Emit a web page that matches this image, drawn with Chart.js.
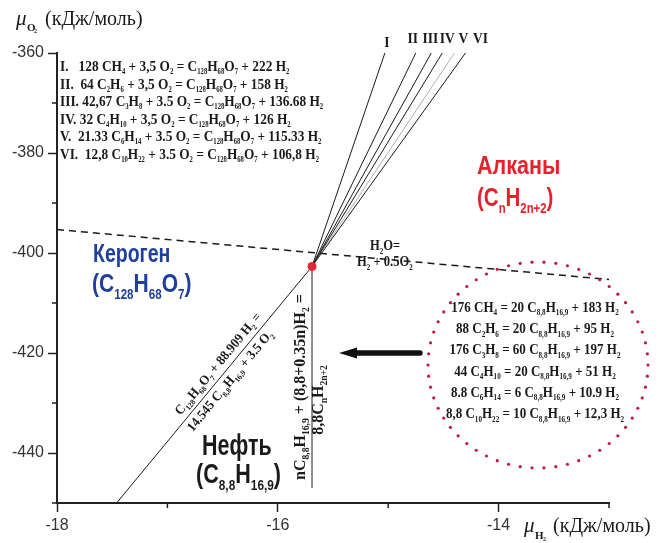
<!DOCTYPE html>
<html>
<head>
<meta charset="utf-8">
<script src="https://cdn.jsdelivr.net/npm/chart.js@4.4.0/dist/chart.umd.min.js"></script>
<style>
    html, body { margin: 0; padding: 0; background: #fff; }
</style>
</head>
<body>
<canvas id="chart" width="662" height="543"></canvas>
<script>
    // axis ranges
    var xMin = -18, xMax = -13;
    var yMin = -450, yMax = -360;

    // point where kerogen, oil and alkane lines meet
    var junctionX = -15.69;
    var junctionY = -402.7;

    // alkane lines I..VI, from the junction up to the top of the plot
    var alkaneNames = ['I', 'II', 'III', 'IV', 'V', 'VI'];
    var alkaneTopX = [-15.03, -14.75, -14.61, -14.51, -14.40, -14.30];
    var alkaneTopY = -360;

    // H2O = H2 + 0.5 O2 (dashed)
    var waterX = [-18, -13];
    var waterY = [-395.3, -405.3];

    // kerogen -> oil
    var kerogenX = [-17.46, junctionX];
    var kerogenY = [-450, junctionY];

    // oil -> alkanes (vertical)
    var oilX = [junctionX, junctionX];
    var oilY = [junctionY, -447];

    var kerogenEqs = [
        'I.   128 CH_4 + 3,5 O_2 = C_{128}H_{68}O_7 + 222 H_2',
        'II.  64 C_2H_6 + 3,5 O_2 = C_{128}H_{68}O_7 + 158 H_2',
        'III. 42,67 C_3H_8 + 3.5 O_2 = C_{128}H_{68}O_7 + 136.68 H_2',
        'IV. 32 C_4H_{10} + 3,5 O_2 = C_{128}H_{68}O_7 + 126 H_2',
        'V.  21.33 C_6H_{14} + 3.5 O_2 = C_{128}H_{68}O_7 + 115.33 H_2',
        'VI.  12,8 C_{10}H_{22} + 3.5 O_2 = C_{128}H_{68}O_7 + 106,8 H_2'
    ];
    var oilEqs = [
        '176 CH_4 = 20 C_{8,8}H_{16,9} + 183 H_2',
        '88 C_2H_6 = 20 C_{8,8}H_{16,9} + 95 H_2',
        '176 C_3H_8 = 60 C_{8,8}H_{16,9} + 197 H_2',
        '44 C_4H_{10} = 20 C_{8,8}H_{16,9} + 51 H_2',
        '8.8 C_6H_{14} = 6 C_{8,8}H_{16,9} + 10.9 H_2',
        '8,8 C_{10}H_{22} = 10 C_{8,8}H_{16,9} + 12,3 H_2'
    ];

    var serif = '"Liberation Serif", "Times New Roman", serif';
    var sans = '"Liberation Sans", Arial, sans-serif';

    function pts(xs, ys) {
        return xs.map(function (x, i) { return {x: x, y: ys[i]}; });
    }

    // "C_{128}H_2" -> segments with subscripts
    function parseRich(str) {
        var segs = [], buf = '', i = 0;
        while (i < str.length) {
            if (str[i] === '_') {
                if (buf) { segs.push({t: buf, sub: false}); buf = ''; }
                var s;
                if (str[i + 1] === '{') {
                    var j = str.indexOf('}', i);
                    s = str.slice(i + 2, j);
                    i = j + 1;
                } else {
                    s = str[i + 1];
                    i += 2;
                }
                segs.push({t: s, sub: true});
            } else {
                buf += str[i];
                i++;
            }
        }
        if (buf) segs.push({t: buf, sub: false});
        return segs;
    }

    function drawRich(ctx, str, x, y, o) {
        var segs = parseRich(str);
        var w8 = o.weight || 'bold';
        var main = w8 + ' ' + o.size + 'px ' + o.family;
        var subF = w8 + ' ' + (o.size * (o.sub || 0.55)).toFixed(1) + 'px ' + o.family;
        ctx.save();
        ctx.translate(x, y);
        if (o.rotate) ctx.rotate(o.rotate);
        ctx.scale(o.scaleX || 1, 1);
        var w = 0;
        segs.forEach(function (s) {
            ctx.font = s.sub ? subF : main;
            s.w = ctx.measureText(s.t).width;
            w += s.w;
        });
        var cx = o.align === 'center' ? -w / 2 : 0;
        ctx.fillStyle = o.color || '#1a1a1a';
        ctx.textBaseline = 'alphabetic';
        ctx.textAlign = 'left';
        segs.forEach(function (s) {
            ctx.font = s.sub ? subF : main;
            ctx.fillText(s.t, cx, s.sub ? o.size * (o.drop || 0.25) : 0);
            cx += s.w;
        });
        ctx.restore();
    }

    var extras = {
        id: 'extras',
        afterDraw: function (chart) {
            var ctx = chart.ctx;
            var xs = chart.scales.x, ys = chart.scales.y;
            var area = chart.chartArea;
            var X = function (v) { return xs.getPixelForValue(v); };
            var Y = function (v) { return ys.getPixelForValue(v); };

            // minor ticks
            ctx.save();
            ctx.strokeStyle = '#222';
            ctx.lineWidth = 1.5;
            ctx.beginPath();
            for (var v = xMin + 1; v <= xMax; v += 2) {
                ctx.moveTo(X(v), area.bottom);
                ctx.lineTo(X(v), area.bottom + 5);
            }
            for (var u = yMin; u < yMax; u += 20) {
                ctx.moveTo(area.left, Y(u));
                ctx.lineTo(area.left - 5, Y(u));
            }
            ctx.stroke();
            ctx.restore();

            // axis titles
            ctx.save();
            ctx.fillStyle = '#1a1a1a';
            ctx.textBaseline = 'alphabetic';
            ctx.font = 'italic 21px ' + serif;
            ctx.fillText('\u03bc', 16, 25);
            ctx.font = 'bold 11px ' + serif;
            ctx.fillText('O', 27, 31);
            ctx.font = 'bold 6px ' + serif;
            ctx.fillText('2', 34, 33);
            ctx.font = '20px ' + serif;
            ctx.fillText('(\u043a\u0414\u0436/\u043c\u043e\u043b\u044c)', 45, 25);

            ctx.font = 'italic 21px ' + serif;
            ctx.fillText('\u03bc', 524, 532);
            ctx.font = 'bold 11px ' + serif;
            ctx.fillText('H', 535, 539);
            ctx.font = 'bold 6px ' + serif;
            ctx.fillText('2', 543, 541);
            ctx.font = '20px ' + serif;
            ctx.fillText('(\u043a\u0414\u0436/\u043c\u043e\u043b\u044c)', 553, 532);
            ctx.restore();

            // equations, top left
            kerogenEqs.forEach(function (s, i) {
                drawRich(ctx, s, 60, 71 + i * 17.5, {size: 15, family: serif, scaleX: 0.89, sub: 0.5, drop: 0.22});
            });

            // roman numerals over alkane lines
            var nameShift = [2, -3, -1, 5, 9, 15];
            alkaneNames.forEach(function (n, i) {
                drawRich(ctx, n, X(alkaneTopX[i]) + nameShift[i], i === 0 ? 47 : 43,
                    {size: 15, family: serif, scaleX: 0.9, align: 'center'});
            });

            // dotted circle with oil equations
            ctx.save();
            ctx.fillStyle = '#c4163f';
            var nDots = 58;
            for (var k = 0; k < nDots; k++) {
                var a = k / nDots * Math.PI * 2;
                ctx.beginPath();
                ctx.arc(538 + 110 * Math.cos(a), 365 + 103 * Math.sin(a), 1.6, 0, Math.PI * 2);
                ctx.fill();
            }
            ctx.restore();
            oilEqs.forEach(function (s, i) {
                drawRich(ctx, s, 535, 311.7 + i * 21.3, {size: 14, family: serif, scaleX: 0.93, align: 'center'});
            });

            // arrow
            ctx.save();
            ctx.fillStyle = '#111';
            ctx.beginPath();
            ctx.moveTo(339, 353);
            ctx.lineTo(357, 347.5);
            ctx.lineTo(357, 350.3);
            ctx.lineTo(420, 350.3);
            ctx.arc(420, 353, 2.7, -Math.PI / 2, Math.PI / 2);
            ctx.lineTo(357, 355.7);
            ctx.lineTo(357, 358.5);
            ctx.closePath();
            ctx.fill();
            ctx.restore();

            // water line label
            drawRich(ctx, 'H_2O=', 370, 250, {size: 14, family: serif, scaleX: 0.9});
            drawRich(ctx, 'H_2 + 0.5O_2', 357, 266, {size: 14, family: serif, scaleX: 0.9});

            // text along the kerogen line
            var ax = X(kerogenX[0]), ay = Y(kerogenY[0]);
            var bx = X(kerogenX[1]), by = Y(kerogenY[1]);
            var ang = Math.atan2(by - ay, bx - ax);
            var nx = Math.sin(ang), ny = -Math.cos(ang);
            var along = function (t, d) {
                return [ax + (bx - ax) * t - nx * d, ay + (by - ay) * t - ny * d];
            };
            var p1 = along(0.56, -6.4);
            drawRich(ctx, 'C_{128}H_{68}O_7 + 88.909 H_2 =', p1[0], p1[1],
                {size: 13.5, family: serif, scaleX: 0.95, sub: 0.58, rotate: ang, align: 'center'});
            var p2 = along(0.542, 13.6);
            drawRich(ctx, '14.545 C_{8,8}H_{16,9} + 3.5 O_2', p2[0], p2[1],
                {size: 13.5, family: serif, scaleX: 0.95, sub: 0.58, rotate: ang, align: 'center'});

            // text along the vertical oil line
            var vx = X(junctionX);
            drawRich(ctx, 'nC_{8,8}H_{16,9} + (8,8+0.35n)H_2 =', vx - 7, 387,
                {size: 16, family: serif, sub: 0.6, rotate: -Math.PI / 2, align: 'center'});
            drawRich(ctx, '8,8C_nH_{2n+2}', vx + 11, 400,
                {size: 16, family: serif, sub: 0.6, rotate: -Math.PI / 2, align: 'center'});

            // region names
            drawRich(ctx, '\u041a\u0435\u0440\u043e\u0433\u0435\u043d', 93, 262,
                {size: 26, family: sans, scaleX: 0.75, color: '#1e3f9e'});
            drawRich(ctx, '(C_{128}H_{68}O_7)', 92, 292,
                {size: 26, family: sans, scaleX: 0.81, sub: 0.55, drop: 0.25, color: '#1e3f9e'});
            drawRich(ctx, '\u0410\u043b\u043a\u0430\u043d\u044b', 477, 174,
                {size: 25, family: sans, scaleX: 0.86, color: '#e5222b'});
            drawRich(ctx, '(C_nH_{2n+2})', 477, 206,
                {size: 25, family: sans, scaleX: 0.82, sub: 0.55, drop: 0.28, color: '#e5222b'});
            drawRich(ctx, '\u041d\u0435\u0444\u0442\u044c', 202, 455,
                {size: 29, family: sans, scaleX: 0.74, color: '#1a1a1a'});
            drawRich(ctx, '(C_{8,8}H_{16,9})', 196, 483,
                {size: 28, family: sans, scaleX: 0.77, sub: 0.55, drop: 0.25, color: '#1a1a1a'});
        }
    };

    var lineDs = function (data, color, width, dash) {
        return {data: data, showLine: true, pointRadius: 0, borderColor: color,
            borderWidth: width, borderDash: dash || [], fill: false};
    };

    var datasets = [
        {data: [{x: junctionX, y: junctionY}], pointRadius: 4.5, pointBackgroundColor: '#e3262f',
            pointBorderWidth: 0, showLine: false}
    ];
    datasets.push(lineDs(pts(waterX, waterY), '#1a1a1a', 1.5, [7, 5]));
    datasets.push(lineDs(pts(kerogenX, kerogenY), '#1a1a1a', 1));
    datasets.push(lineDs(pts(oilX, oilY), '#555', 1.3));
    alkaneTopX.forEach(function (tx, i) {
        datasets.push(lineDs([{x: junctionX, y: junctionY}, {x: tx, y: alkaneTopY}],
            i === 4 ? '#9a9a9a' : '#1a1a1a', i === 4 ? 0.8 : 1));
    });

    var tickFont = {family: sans, size: 16};

    new Chart(document.getElementById('chart'), {
        type: 'scatter',
        data: {datasets: datasets},
        options: {
            responsive: false,
            animation: false,
            devicePixelRatio: 1,
            layout: {padding: {top: 53, right: 53, left: 0, bottom: 0}},
            plugins: {legend: {display: false}, tooltip: {enabled: false}},
            scales: {
                x: {
                    type: 'linear', min: xMin, max: xMax,
                    afterFit: function (s) { s.height = 40; },
                    border: {display: true, color: '#222', width: 2},
                    grid: {
                        drawOnChartArea: false, drawTicks: true, tickLength: 9, tickWidth: 1.5,
                        tickColor: function (c) { return c.tick && c.tick.value % 2 !== 0 ? 'rgba(0,0,0,0)' : '#222'; }
                    },
                    ticks: {
                        stepSize: 1, autoSkip: false, maxRotation: 0, padding: 4, color: '#333', font: tickFont,
                        callback: function (v) { return v % 2 === 0 ? v : ''; }
                    }
                },
                y: {
                    type: 'linear', min: yMin, max: yMax,
                    afterFit: function (s) { s.width = 57; },
                    border: {display: true, color: '#222', width: 2},
                    grid: {
                        drawOnChartArea: false, drawTicks: true, tickLength: 9, tickWidth: 1.5,
                        tickColor: function (c) { return c.tick && c.tick.value % 20 !== 0 ? 'rgba(0,0,0,0)' : '#222'; }
                    },
                    ticks: {
                        stepSize: 10, autoSkip: false, padding: 4, color: '#333', font: tickFont,
                        callback: function (v) { return v % 20 === 0 ? v : ''; }
                    }
                }
            }
        },
        plugins: [extras]
    });
</script>
</body>
</html>
